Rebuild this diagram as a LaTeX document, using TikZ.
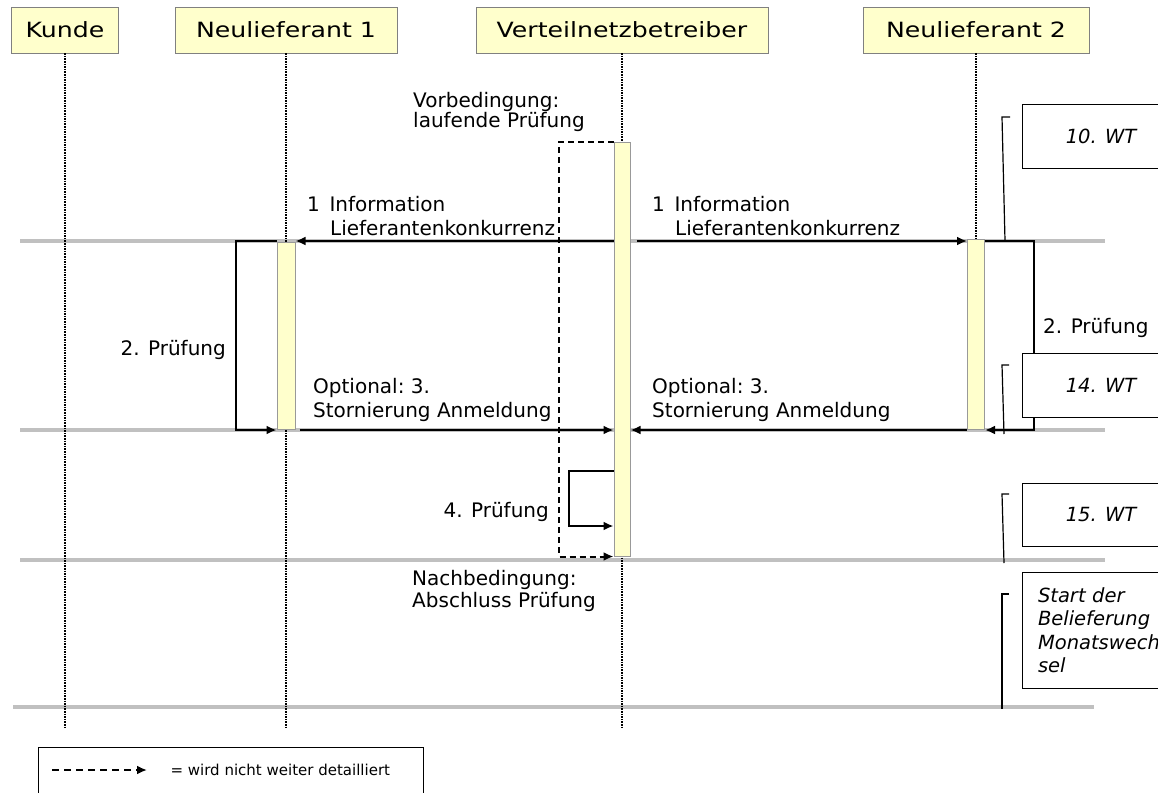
\documentclass[tikz,border=0pt]{standalone}
\usepackage{fontspec}
\setmainfont{DejaVu Sans}
\newfontfamily\headfont{DejaVu Sans}[FakeStretch=1.2]
\usetikzlibrary{arrows.meta}
\definecolor{lane}{HTML}{FFFFCC}
\definecolor{tgray}{HTML}{C0C0C0}

\begin{document}
\begin{tikzpicture}[x=1pt,y=-1pt,
  head/.style={draw=black!50,fill=lane,minimum height=46pt,inner sep=0pt,font=\headfont\fontsize{21}{25}\selectfont},
  life/.style={line width=2.6pt,dash pattern=on 1.6pt off 1pt},
  bar/.style={draw=black!40,fill=lane,inner sep=0pt,line width=1pt},
  tline/.style={tgray,line width=4.5pt},
  msg/.style={line width=2pt,-{Latex[length=10pt,width=9pt]}},
  nodetail/.style={msg,dash pattern=on 6pt off 4pt},
  lbl/.style={inner sep=0pt,align=left,font=\fontsize{20}{23.7}\selectfont},
  wt/.style={draw,fill=white,line width=1pt,font=\itshape\fontsize{19.5}{23.5}\selectfont},
  brk/.style={line width=1.2pt}]
\useasboundingbox (0,0) rectangle (1158,792);

\draw[tline] (20,241) -- (1105,241);
\draw[tline] (20,430) -- (1105,430);
\draw[tline] (20,560) -- (1105,560);
\draw[tline] (13,707) -- (1094,707);

\node[head,minimum width=107pt] (kunde) at (65,30) {Kunde};
\node[head,minimum width=222pt] (nlf1) at (286,30) {Neulieferant 1};
\node[head,minimum width=292pt] (vnb) at (622,30) {Verteilnetzbetreiber};
\node[head,minimum width=226pt] (nlf2) at (976,30) {Neulieferant 2};

\coordinate (bottom) at (0,729);
\coordinate (t1) at (0,241);
\coordinate (t2) at (0,430);
\coordinate (t3a) at (0,471);
\coordinate (t3b) at (0,526);
\coordinate (l1) at (236,335);
\coordinate (l2) at (1034,335);
\coordinate (l3) at (569,500);
\coordinate (l4) at (559,350);

\draw[life] (kunde.south) -- (kunde.south |- bottom);
\draw[life] (nlf1.south) -- (nlf1.south |- bottom);
\draw[life] (vnb.south) -- (vnb.south |- bottom);
\draw[life] (nlf2.south) -- (nlf2.south |- t1);

\node[bar,minimum width=18pt,minimum height=187pt] (bar1) at (286,335.5) {};
\node[bar,minimum width=16pt,minimum height=414pt] (barv) at (622,349) {};
\node[bar,minimum width=17pt,minimum height=190pt] (bar2) at (976,334) {};

\draw[msg] (barv.west |- t1) -- (bar1.east |- t1);
\draw[msg] ([xshift=6pt]barv.east |- t1) -- (bar2.west |- t1);
\draw[msg] (bar1.west |- t1) -| (l1) |- (bar1.west |- t2);
\draw[msg] ([xshift=4pt]bar1.east |- t2) -- (barv.west |- t2);
\draw[msg] (bar2.west |- t2) -- (barv.east |- t2);
\draw[msg] (bar2.east |- t1) -| (l2) |- (bar2.east |- t2);
\draw[msg] (barv.west |- t3a) -| (l3) |- (barv.west |- t3b);
\draw[nodetail] (barv.north west) -| (l4) |- (barv.south west);

\node[lbl,anchor=north west] (info1) at (307,196) {1\hspace{9.6pt}Information\\\hspace*{23pt}Lieferantenkonkurrenz};
\node[lbl,anchor=north west] (info2) at (652,196) {1\hspace{9.6pt}Information\\\hspace*{23pt}Lieferantenkonkurrenz};
\node[lbl,anchor=north west] (storno1) at (313,378) {Optional:\ 3.\\Stornierung Anmeldung};
\node[lbl,anchor=north west] (storno2) at (652,378) {Optional:\ 3.\\Stornierung Anmeldung};
\node[lbl,anchor=base east] (pruef1) at (226,355) {2. Prüfung};
\node[lbl,anchor=base west] (pruef2) at (1043,333) {2. Prüfung};
\node[lbl,anchor=base east] (pruef4) at (549,517) {4. Prüfung};
\node[lbl,anchor=north west,font=\fontsize{20}{20}\selectfont] (vor) at (413,92) {Vorbedingung:\\laufende Prüfung};
\node[lbl,anchor=north west,font=\fontsize{20}{22.5}\selectfont] (nach) at (412,570) {Nachbedingung:\\Abschluss Prüfung};

\draw[brk] (1010,117) -- (1002,117) -- (1005,241);
\draw[brk] (1009,365) -- (1002,365) -- (1004,434);
\draw[brk] (1009,494) -- (1002,494) -- (1004,563);
\draw[brk] (1009,594) -- (1002,594) -- (1002,709);

\node[wt,minimum width=158pt,minimum height=64pt] (wt10) at (1101,136.5) {10. WT};
\node[wt,minimum width=158pt,minimum height=64pt] (wt14) at (1101,385) {14. WT};
\node[wt,minimum width=158pt,minimum height=63pt] (wt15) at (1101,514.5) {15. WT};
\node[wt,text width=142pt,inner xsep=16pt,align=left,minimum height=116pt] (wtstart) at (1109,630) {Start der\\Belieferung\\Monatswech\\sel};

\node[draw,line width=1pt,minimum width=385pt,minimum height=70pt,anchor=north west] (legend) at (38,747) {};
\coordinate (la) at (52,770);
\coordinate (lb) at (147,770);
\draw[nodetail,dash pattern=on 7pt off 5pt] (la) -- (lb);
\node[anchor=west,font=\fontsize{15}{18}\selectfont] (legtxt) at (167,770) {= wird nicht weiter detailliert};
\end{tikzpicture}
\end{document}
